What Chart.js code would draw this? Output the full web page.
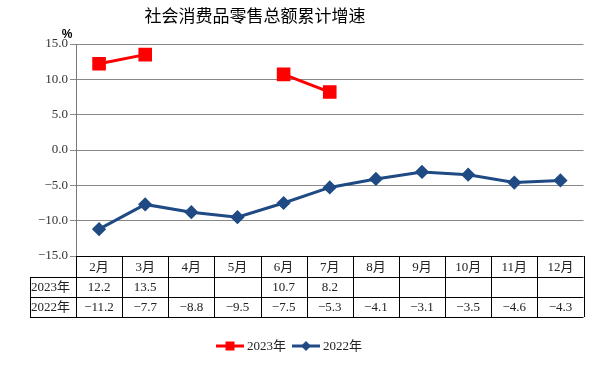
<!DOCTYPE html>
<html>
<head>
<meta charset="utf-8">
<script src="https://cdn.jsdelivr.net/npm/chart.js@4"></script>
<style>
  html,body{margin:0;padding:0;background:#fff;}
  #wrap{width:594px;height:367px;position:relative;}
</style>
</head>
<body>
<div id="wrap"><canvas id="chart" width="594" height="367"></canvas></div>
<script>
const months = ['2月','3月','4月','5月','6月','7月','8月','9月','10月','11月','12月'];
const growth2023 = [12.2, 13.5, null, null, 10.7, 8.2, null, null, null, null, null];
const growth2022 = [-11.2, -7.7, -8.8, -9.5, -7.5, -5.3, -4.1, -3.1, -3.5, -4.6, -4.3];
const seriesNames = ['2023年', '2022年'];
const yMin = -15, yMax = 15, yStep = 5;

const RED = '#ff0000', BLUE = '#1f4a84';
const SERIF = '"Liberation Serif", "Noto Sans CJK SC", serif';
const fmt = v => (v < 0 ? '\u2212' + Math.abs(v).toFixed(1) : v.toFixed(1));

// title, % label, data table under the plot and the legend
const extras = {
  id: 'extras',
  afterDraw(chart){
    const {ctx, chartArea:a, scales:{x}} = chart;
    ctx.save();
    ctx.fillStyle = '#000';
    ctx.textBaseline = 'middle';
    ctx.textAlign = 'center';
    ctx.font = '17px "Noto Sans CJK SC", sans-serif';
    ctx.fillText('社会消费品零售总额累计增速', 255, 16);
    ctx.font = 'bold 12px "Liberation Sans", sans-serif';
    ctx.fillText('%', 67, 35);

    const half = (x.getPixelForValue(1) - x.getPixelForValue(0)) / 2;
    const rows = [a.bottom, 277, 297, 317];
    const labelLeft = 30;
    ctx.strokeStyle = '#000';
    ctx.lineWidth = 1;
    ctx.beginPath();
    ctx.moveTo(a.left, rows[0] + .5); ctx.lineTo(a.right, rows[0] + .5);
    for (let r = 1; r < rows.length; r++) {
      ctx.moveTo(labelLeft, rows[r] + .5); ctx.lineTo(a.right, rows[r] + .5);
    }
    ctx.moveTo(labelLeft + .5, rows[1]); ctx.lineTo(labelLeft + .5, rows[3]);
    for (let i = 0; i <= months.length; i++) {
      const px = Math.round(x.getPixelForValue(i) - half) + .5;
      ctx.moveTo(px, rows[0]); ctx.lineTo(px, rows[3]);
    }
    ctx.stroke();

    ctx.font = '13px ' + SERIF;
    ctx.fillStyle = '#222';
    months.forEach((m, i) => {
      const cx = x.getPixelForValue(i);
      ctx.fillText(m, cx, (rows[0] + rows[1]) / 2 + 1);
      if (growth2023[i] != null) ctx.fillText(fmt(growth2023[i]), cx, (rows[1] + rows[2]) / 2 + 1);
      if (growth2022[i] != null) ctx.fillText(fmt(growth2022[i]), cx, (rows[2] + rows[3]) / 2 + 1);
    });
    ctx.textAlign = 'left';
    ctx.fillText(seriesNames[0], labelLeft + 1, (rows[1] + rows[2]) / 2 + 1);
    ctx.fillText(seriesNames[1], labelLeft + 1, (rows[2] + rows[3]) / 2 + 1);

    // legend
    const ly = 346;
    const items = [{x: 216, color: RED, name: seriesNames[0], shape: 'rect'},
                   {x: 292, color: BLUE, name: seriesNames[1], shape: 'diamond'}];
    items.forEach(it => {
      ctx.strokeStyle = it.color; ctx.fillStyle = it.color; ctx.lineWidth = 3;
      ctx.beginPath(); ctx.moveTo(it.x, ly); ctx.lineTo(it.x + 28, ly); ctx.stroke();
      const cx = it.x + 14;
      ctx.beginPath();
      if (it.shape === 'rect') ctx.rect(cx - 4.5, ly - 4.5, 9, 9);
      else { ctx.moveTo(cx, ly - 5); ctx.lineTo(cx + 5, ly); ctx.lineTo(cx, ly + 5); ctx.lineTo(cx - 5, ly); ctx.closePath(); }
      ctx.fill();
      ctx.fillStyle = '#222';
      ctx.font = '13px ' + SERIF;
      ctx.fillText(it.name, it.x + 31, ly + 1);
    });
    ctx.restore();
  }
};

new Chart(document.getElementById('chart').getContext('2d'), {
  type: 'line',
  data: {
    labels: months,
    datasets: [
      { label: seriesNames[0], data: growth2023, borderColor: RED, backgroundColor: RED,
        borderWidth: 3, pointStyle: 'rect', pointRadius: 7.5, pointHoverRadius: 7.5, spanGaps: false },
      { label: seriesNames[1], data: growth2022, borderColor: BLUE, backgroundColor: BLUE,
        borderWidth: 3, pointStyle: 'rectRot', pointRadius: 5, pointHoverRadius: 5 }
    ]
  },
  options: {
    responsive: false,
    animation: false,
    layout: { padding: { left: 0, right: 10, top: 44, bottom: 111 } },
    plugins: { legend: { display: false }, title: { display: false }, tooltip: { enabled: false } },
    scales: {
      x: { display: false, offset: true },
      y: {
        min: yMin, max: yMax,
        afterFit: s => { s.width = 76; },
        border: { color: '#777', width: 1 },
        grid: { color: '#888', lineWidth: 1, tickLength: 6, drawTicks: true },
        ticks: { stepSize: yStep, padding: 2, color: '#333', font: { family: SERIF, size: 13 },
                 callback: v => fmt(v) }
      }
    }
  },
  plugins: [extras]
});
</script>
</body>
</html>
